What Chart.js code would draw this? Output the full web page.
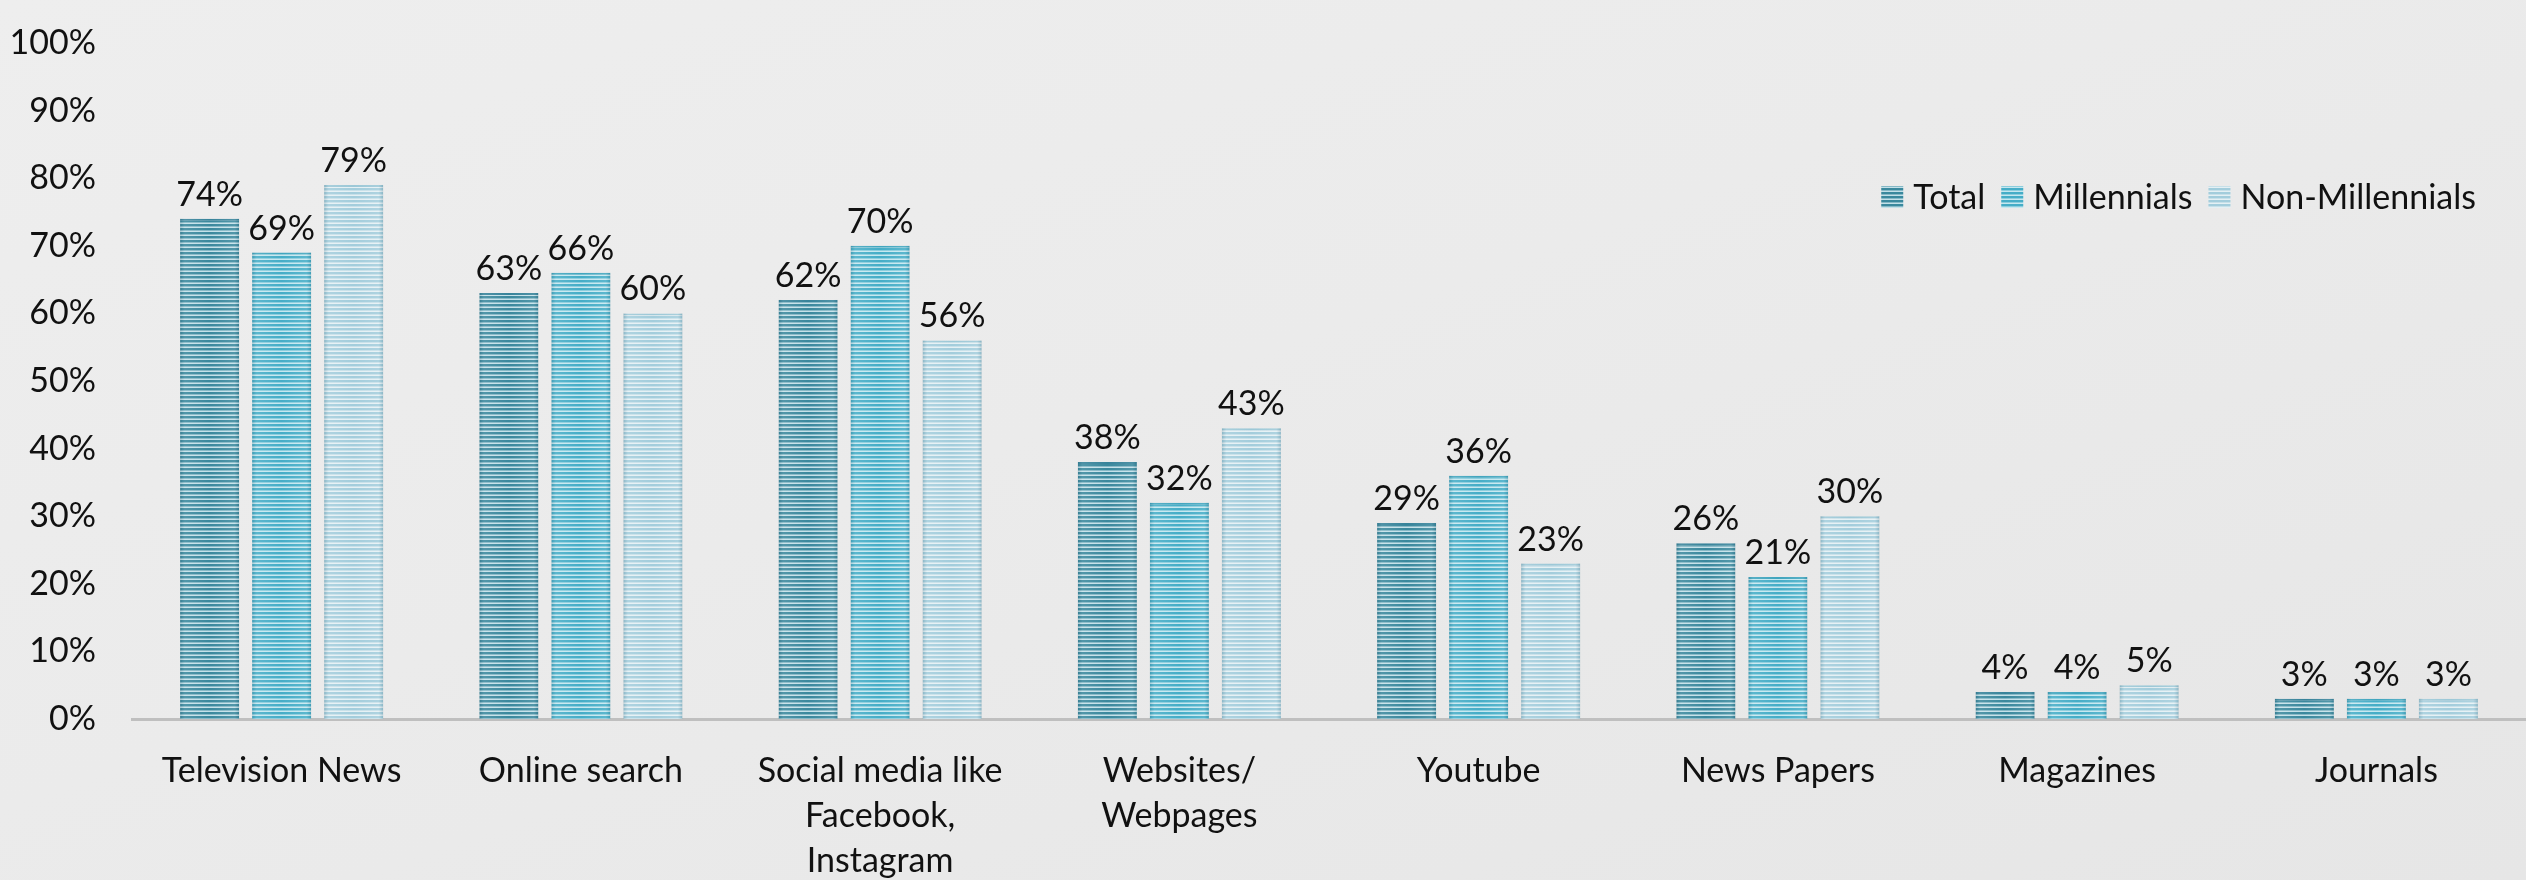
<!DOCTYPE html>
<html>
<head>
<meta charset="utf-8">
<title>News sources by generation</title>
<script src="https://cdn.jsdelivr.net/npm/chart.js@4.4.1/dist/chart.umd.min.js"></script>
<style>
  html, body { margin: 0; padding: 0; }
  body {
    width: 2526px; height: 880px; overflow: hidden;
    background: linear-gradient(160deg, #eeeeee 0%, #ebebeb 45%, #e6e6e6 100%);
  }
  canvas { display: block; }
</style>
</head>
<body>
<canvas id="sourcesChart" width="2526" height="880"></canvas>
<script>
// Data
const categories = [
  'Television News',
  'Online search',
  ['Social media like', 'Facebook,', 'Instagram'],
  ['Websites/', 'Webpages'],
  'Youtube',
  'News Papers',
  'Magazines',
  'Journals'
];
const seriesNames = ['Total', 'Millennials', 'Non-Millennials'];
const totalValues = [74, 63, 62, 38, 29, 26, 4, 3];
const millennialValues = [69, 66, 70, 32, 36, 21, 4, 3];
const nonMillennialValues = [79, 60, 56, 43, 23, 30, 5, 3];
const yTicks = [0, 10, 20, 30, 40, 50, 60, 70, 80, 90, 100];

const FONT = 'Lato, "Open Sans", sans-serif';
const FONT_SIZE = 34;
const TEXT_COLOR = '#111111';

const canvas = document.getElementById('sourcesChart');
const ctx = canvas.getContext('2d');

// Horizontal striped fill used for bars and legend swatches
function stripes(dark, light) {
  const tile = document.createElement('canvas');
  tile.width = 4;
  tile.height = 4;
  const g = tile.getContext('2d');
  g.fillStyle = light;
  g.fillRect(0, 0, 4, 4);
  g.fillStyle = dark;
  g.fillRect(0, 0, 4, 2);
  g.globalAlpha = 0.45;
  g.fillRect(0, 2, 4, 1);
  return ctx.createPattern(tile, 'repeat');
}

const palette = [
  { dark: '#3a889d', light: '#c3e0e8', edge: '#37839a' },
  { dark: '#45adc7', light: '#c5e7ef', edge: '#40a5be' },
  { dark: '#a3cddc', light: '#e4f0f4', edge: '#9cc8d7' }
];

// Soft vertical shading on each bar (darker edges, lighter inner band)
const barShading = {
  id: 'barShading',
  afterDatasetsDraw(chart) {
    const c = chart.ctx;
    c.save();
    chart.data.datasets.forEach((ds, i) => {
      chart.getDatasetMeta(i).data.forEach(bar => {
        const { x, y, width, base } = bar.getProps(['x', 'y', 'width', 'base'], true);
        const left = x - width / 2;
        const grad = c.createLinearGradient(left, 0, left + width, 0);
        grad.addColorStop(0, 'rgba(20,70,90,0.18)');
        grad.addColorStop(0.08, 'rgba(255,255,255,0.12)');
        grad.addColorStop(0.5, 'rgba(255,255,255,0)');
        grad.addColorStop(0.92, 'rgba(255,255,255,0.12)');
        grad.addColorStop(1, 'rgba(20,70,90,0.18)');
        c.fillStyle = grad;
        c.fillRect(left, y, width, base - y);
      });
    });
    c.restore();
  }
};

// Percentage labels above every bar
const valueLabels = {
  id: 'valueLabels',
  afterDatasetsDraw(chart) {
    const c = chart.ctx;
    c.save();
    c.font = FONT_SIZE + 'px ' + FONT;
    c.fillStyle = TEXT_COLOR;
    c.textAlign = 'center';
    c.textBaseline = 'alphabetic';
    chart.data.datasets.forEach((ds, i) => {
      chart.getDatasetMeta(i).data.forEach((bar, j) => {
        c.fillText(ds.data[j] + '%', bar.x, bar.y - 13);
      });
    });
    c.restore();
  }
};

// Legend in the upper right, inside the plot area
const cornerLegend = {
  id: 'cornerLegend',
  afterDraw(chart) {
    const c = chart.ctx;
    const box = 22, gapText = 10, gapItem = 16;
    const rightEdge = 2476, midY = 197;
    c.save();
    c.font = FONT_SIZE + 'px ' + FONT;
    c.textBaseline = 'middle';
    c.textAlign = 'left';
    const items = chart.data.datasets.map(ds => ({
      label: ds.label,
      fill: ds.backgroundColor,
      w: c.measureText(ds.label).width
    }));
    const total = items.reduce((s, it) => s + box + gapText + it.w, 0) + gapItem * (items.length - 1);
    let x = rightEdge - total;
    items.forEach(it => {
      c.fillStyle = it.fill;
      c.fillRect(x, midY - box / 2, box, box);
      c.fillStyle = TEXT_COLOR;
      c.fillText(it.label, x + box + gapText, midY + 1);
      x += box + gapText + it.w + gapItem;
    });
    c.restore();
  }
};

const seriesValues = [totalValues, millennialValues, nonMillennialValues];

new Chart(ctx, {
  type: 'bar',
  data: {
    labels: categories,
    datasets: seriesNames.map((name, i) => ({
      label: name,
      data: seriesValues[i],
      backgroundColor: stripes(palette[i].dark, palette[i].light),
      borderColor: palette[i].edge,
      borderWidth: { top: 2, left: 0, right: 0, bottom: 0 },
      borderSkipped: 'bottom',
      categoryPercentage: 0.722,
      barPercentage: 0.82
    }))
  },
  options: {
    responsive: false,
    animation: false,
    layout: { padding: { top: 43, right: 0, bottom: 0, left: 0 } },
    plugins: {
      legend: { display: false },
      tooltip: { enabled: false }
    },
    scales: {
      x: {
        grid: { display: false, drawTicks: false },
        border: { display: true, color: '#bfbfbf', width: 3 },
        afterFit: scale => { scale.height = 161; },
        ticks: {
          color: TEXT_COLOR,
          padding: 30,
          maxRotation: 0,
          autoSkip: false,
          font: { family: FONT, size: FONT_SIZE, lineHeight: 45 / FONT_SIZE }
        }
      },
      y: {
        min: 0,
        max: 100,
        grid: { display: false, drawTicks: false },
        border: { display: false },
        afterBuildTicks: scale => { scale.ticks = yTicks.map(v => ({ value: v })); },
        afterFit: scale => {
          scale.width = 132;
          scale.paddingTop = 0;
          scale.paddingBottom = 0;
        },
        ticks: {
          color: TEXT_COLOR,
          padding: 36,
          callback: v => v + '%',
          font: { family: FONT, size: FONT_SIZE }
        }
      }
    }
  },
  plugins: [barShading, valueLabels, cornerLegend]
});
</script>
</body>
</html>
